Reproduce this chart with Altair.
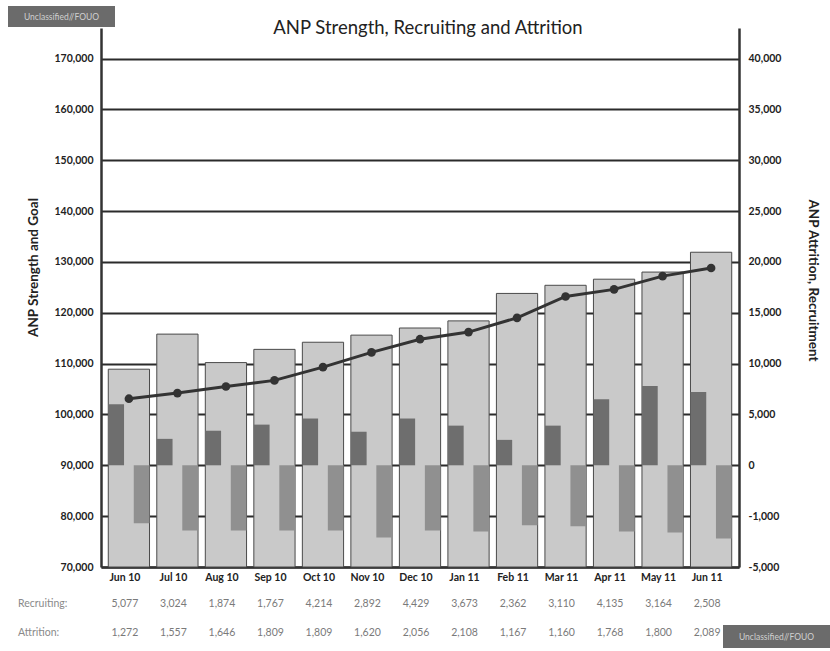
import altair as alt
import pandas as pd

months = ["Jun 10", "Jul 10", "Aug 10", "Sep 10", "Oct 10", "Nov 10", "Dec 10",
          "Jan 11", "Feb 11", "Mar 11", "Apr 11", "May 11", "Jun 11"]
goal = [108900, 115800, 110200, 112800, 114200, 115600, 117000,
        118400, 123800, 125400, 126600, 128000, 131900]
strength = [103100, 104200, 105500, 106700, 109300, 112200, 114800,
            116200, 119000, 123200, 124600, 127200, 128800]
recruit_bar = [6000, 2600, 3400, 4000, 4600, 3300, 4600, 3900, 2500, 3900, 6500, 7800, 7200]
attrition_bar = [-5700, -6400, -6400, -6400, -6400, -7100, -6400, -6500, -5900, -6000, -6500, -6600, -7200]
recruiting_table = ["5,077", "3,024", "1,874", "1,767", "4,214", "2,892", "4,429",
                    "3,673", "2,362", "3,110", "4,135", "3,164", "2,508"]
attrition_table = ["1,272", "1,557", "1,646", "1,809", "1,809", "1,620", "2,056",
                   "2,108", "1,167", "1,160", "1,768", "1,800", "2,089"]
left_ticks = [70000, 80000, 90000, 100000, 110000, 120000, 130000, 140000, 150000, 160000, 170000]
right_ticks = [-10000, -5000, 0, 5000, 10000, 15000, 20000, 25000, 30000, 35000, 40000]

df = pd.DataFrame({
    "month": months, "goal": goal, "strength": strength,
    "recruit": recruit_bar, "attrition": attrition_bar,
    "rec_txt": recruiting_table, "att_txt": attrition_table,
})

FONT = "Lato"
W, H = 638, 539
left_dom = [70000, 176000]
right_dom = [-10000, 43000]

x_enc = alt.X(
    "month:N", sort=months, title=None,
    scale=alt.Scale(paddingInner=0.15, paddingOuter=0.15),
    axis=alt.Axis(labelAngle=0, labelFont=FONT, labelFontSize=10.5, labelFontWeight="bold",
                  labelColor="#222", ticks=False, labelPadding=5, labelOffset=-4,
                  domainColor="#333", domainWidth=2.5, grid=False),
)

base = alt.Chart(df)

goal_bars = base.mark_bar(color="#c9c9c9", stroke="#4a4a4a", strokeWidth=1).encode(
    x=x_enc,
    y=alt.Y("goal:Q",
            scale=alt.Scale(domain=left_dom, nice=False, zero=False),
            axis=alt.Axis(orient="left", values=left_ticks,
                          labelExpr="format(datum.value, ',')", grid=True,
                          gridColor="#2b2b2b", gridWidth=2, ticks=False, labelPadding=8,
                          labelFont=FONT, labelFontSize=10.5, labelFontWeight="bold",
                          labelColor="#222", domainColor="#333", domainWidth=2.5,
                          title="ANP Strength and Goal", titleFont=FONT, titleFontSize=13.5,
                          titleFontWeight="bold", titleColor="#222", titleAngle=270,
                          titleAlign="center", titleBaseline="middle",
                          titleX=-68, titleY=239)),
    y2=alt.datum(70000),
)

recruit_bars = base.mark_bar(color="#6e6e6e", width=alt.RelativeBandSize(0.38), xOffset=-12.7).encode(
    x=x_enc,
    y=alt.Y("recruit:Q",
            scale=alt.Scale(domain=right_dom, nice=False, zero=False),
            axis=alt.Axis(orient="right", values=right_ticks, grid=False, ticks=False,
                          labelPadding=9, labelFont=FONT, labelFontSize=10.5,
                          labelFontWeight="bold", labelColor="#222", domainColor="#333",
                          domainWidth=2.5,
                          labelExpr="datum.value == -5000 ? '-1,000' : datum.value == -10000 ? '-5,000' : format(datum.value, ',')",
                          title="ANP Attrition, Recruitment", titleFont=FONT, titleFontSize=13.5,
                          titleFontWeight="bold", titleColor="#222", titleAngle=90,
                          titleAlign="center", titleBaseline="middle",
                          titleX=73, titleY=252)),
    y2=alt.datum(0),
)

attr_bars = base.mark_bar(color="#909090", width=alt.RelativeBandSize(0.38), xOffset=12.7).encode(
    x=x_enc,
    y=alt.Y("attrition:Q", scale=alt.Scale(domain=right_dom, nice=False, zero=False), axis=None),
    y2=alt.datum(0),
)

line = base.mark_line(color="#333333", strokeWidth=3,
                      point=alt.OverlayMarkDef(filled=True, size=75, color="#333333")).encode(
    x=x_enc,
    y=alt.Y("strength:Q", scale=alt.Scale(domain=left_dom, nice=False, zero=False), axis=None),
)

rec_row = base.mark_text(font=FONT, fontSize=10.5, color="#7a7a7a", baseline="middle", dx=-4).encode(
    x=x_enc, y=alt.value(576), text="rec_txt:N")
att_row = base.mark_text(font=FONT, fontSize=10.5, color="#7a7a7a", baseline="middle", dx=-4).encode(
    x=x_enc, y=alt.value(605), text="att_txt:N")

rec_label = alt.Chart(pd.DataFrame({"t": ["Recruiting:"]})).mark_text(
    font=FONT, fontSize=10.5, color="#8a8a8a", align="left", baseline="middle").encode(
    x=alt.value(-83), y=alt.value(576), text="t:N")
att_label = alt.Chart(pd.DataFrame({"t": ["Attrition:"]})).mark_text(
    font=FONT, fontSize=10.5, color="#8a8a8a", align="left", baseline="middle").encode(
    x=alt.value(-83), y=alt.value(605), text="t:N")

title = alt.Chart(pd.DataFrame({"t": ["ANP Strength, Recruiting and Attrition"]})).mark_text(
    font=FONT, fontSize=18.5, color="#222", align="center", baseline="alphabetic").encode(
    x=alt.value(327), y=alt.value(6), text="t:N")

stamp = pd.DataFrame({"t": ["Unclassified//FOUO"]})
box1 = alt.Chart(stamp).mark_rect(color="#6b6b6b").encode(
    x=alt.value(-93), x2=alt.value(14), y=alt.value(-22), y2=alt.value(-1))
box1_t = alt.Chart(stamp).mark_text(font=FONT, fontSize=8.5, color="#d0d0d0", baseline="middle").encode(
    x=alt.value(-39.5), y=alt.value(-11.5), text="t:N")
box2 = alt.Chart(stamp).mark_rect(color="#6b6b6b").encode(
    x=alt.value(622), x2=alt.value(729), y=alt.value(597), y2=alt.value(620))
box2_t = alt.Chart(stamp).mark_text(font=FONT, fontSize=8.5, color="#d0d0d0", baseline="middle").encode(
    x=alt.value(675.5), y=alt.value(608.5), text="t:N")

chart = alt.layer(
    goal_bars, recruit_bars, attr_bars, line,
    rec_row, att_row, rec_label, att_label, title, box1, box1_t, box2, box2_t,
).resolve_scale(y="independent").properties(
    width=W, height=H,
    autosize=alt.AutoSizeParams(type="none"),
    padding={"left": 101, "top": 28, "right": 91, "bottom": 84},
).configure(background="white").configure_view(stroke=None)

chart.save("out.html", embed_options={"renderer": "svg", "actions": False})
